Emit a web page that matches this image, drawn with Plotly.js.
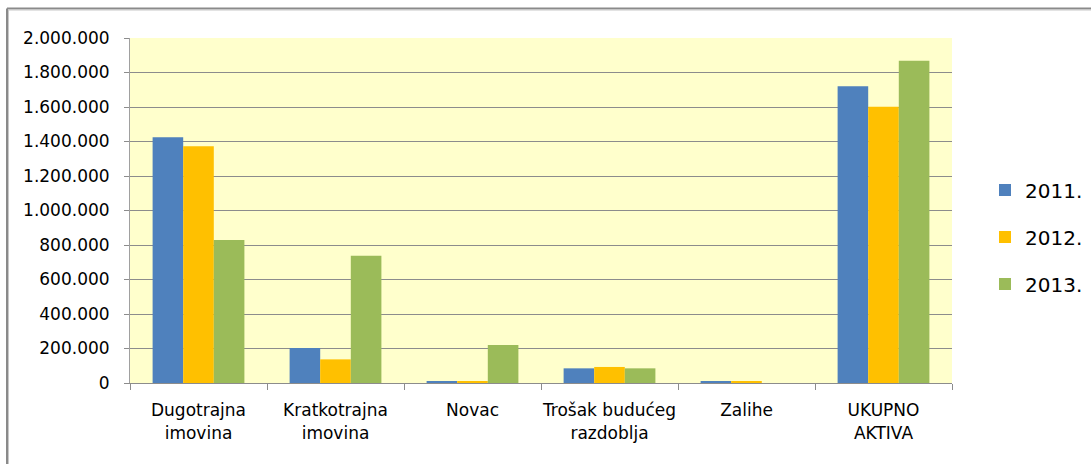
<!DOCTYPE html>
<html>
<head>
<meta charset="utf-8">
<script src="https://cdn.plot.ly/plotly-3.0.1.min.js"></script>
<style>
html,body{margin:0;padding:0;background:#fff;}
#chart{width:1091px;height:464px;}
</style>
</head>
<body>
<div id="chart"></div>
<script>
const categories = ["Dugotrajna<br>imovina", "Kratkotrajna<br>imovina", "Novac", "Trošak budućeg<br>razdoblja", "Zalihe", "UKUPNO<br>AKTIVA"];
const seriesNames = ["2011.", "2012.", "2013."];
const values2011 = [1424000, 203000, 9000, 85000, 8000, 1720000];
const values2012 = [1372000, 137000, 6000, 93000, 6000, 1602000];
const values2013 = [829000, 738000, 220000, 85000, 0, 1868000];
const colors = ["#4F81BD", "#FFC000", "#9BBB59"];
const yTicks = [0, 200000, 400000, 600000, 800000, 1000000, 1200000, 1400000, 1600000, 1800000, 2000000];

const allValues = [values2011, values2012, values2013];
const traces = allValues.map((v, i) => ({
  type: "bar",
  name: seriesNames[i],
  x: categories,
  y: v,
  legendgroup: "g" + i,
  marker: {color: colors[i], line: {width: 0}},
  hoverinfo: "x+y+name"
}));

const L = 130, R = 139, T = 38, B = 81;
const W = 1091, H = 464;
const pw = W - L - R, ph = H - T - B;
const px = x => (x - L) / pw;
const py = y => 1 - (y - T) / ph;

const layout = {
  width: W, height: H,
  margin: {l: L, r: R, t: T, b: B, pad: 0},
  paper_bgcolor: "#ffffff",
  plot_bgcolor: "#FFFFCC",
  separators: ",.",
  barmode: "group",
  bargap: 0.33,
  bargroupgap: 0,
  font: {family: "DejaVu Sans, sans-serif", color: "#000000", size: 17},
  xaxis: {
    type: "category",
    tickson: "boundaries",
    ticks: "outside",
    ticklen: 6,
    tickcolor: "#8c8c8c",
    tickangle: 0,
    showline: true,
    linecolor: "#8c8c8c",
    linewidth: 1,
    showgrid: false,
    tickfont: {size: 17, family: "DejaVu Sans, sans-serif", color: "#000000"},
    ticklabelstandoff: 12,
    fixedrange: true
  },
  yaxis: {
    range: [0, 2000000],
    tickmode: "array",
    tickvals: yTicks,
    tickformat: ",d",
    ticks: "outside",
    ticklen: 5,
    tickcolor: "#8c8c8c",
    showline: true,
    linecolor: "#a0a0a0",
    linewidth: 1,
    showgrid: true,
    gridcolor: "#8c8c8c",
    gridwidth: 1,
    zeroline: false,
    tickfont: {size: 17, family: "DejaVu Sans, sans-serif", color: "#000000"},
    ticklabelstandoff: 11,
    fixedrange: true
  },
  legend: {
    xref: "container", yref: "container",
    x: 985 / W, xanchor: "left",
    y: 1 - 237 / H, yanchor: "middle",
    font: {size: 20, family: "DejaVu Sans, sans-serif", color: "#000000"},
    traceorder: "grouped",
    tracegroupgap: 18,
    bgcolor: "rgba(0,0,0,0)"
  },
  showlegend: true,
  shapes: [
    {type: "line", xref: "paper", yref: "paper", x0: px(7), x1: px(1095), y0: py(8.5), y1: py(8.5), line: {color: "#8a8a8a", width: 2}},
    {type: "line", xref: "paper", yref: "paper", x0: px(7), x1: px(7), y0: py(8.5), y1: py(470), line: {color: "#8a8a8a", width: 2}},
    {type: "line", xref: "paper", yref: "paper", x0: px(8.5), x1: px(1095), y0: py(10), y1: py(10), line: {color: "#c8c8c8", width: 1}},
    {type: "line", xref: "paper", yref: "paper", x0: px(8.5), x1: px(8.5), y0: py(10), y1: py(470), line: {color: "#c8c8c8", width: 1}}
  ]
};

Plotly.newPlot("chart", traces, layout, {displayModeBar: false, staticPlot: false});
</script>
</body>
</html>
